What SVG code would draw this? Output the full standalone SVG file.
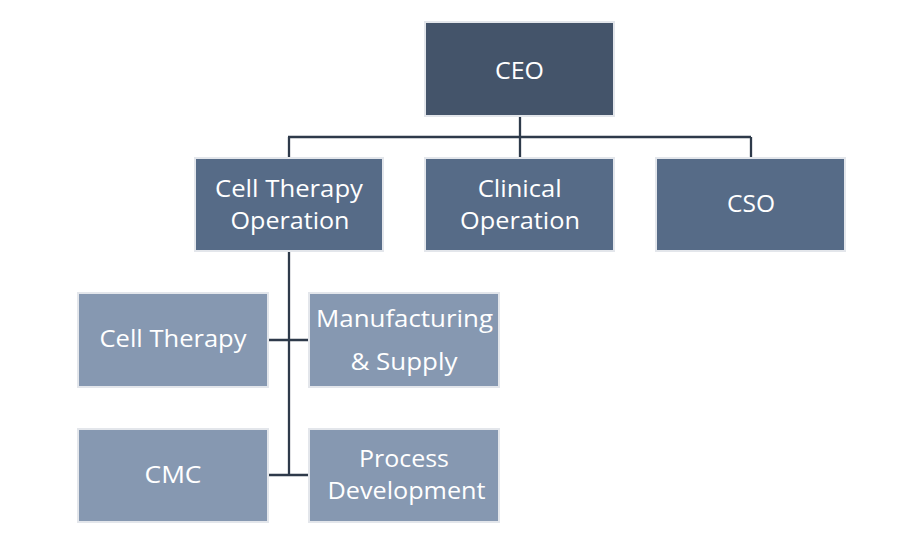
<svg xmlns="http://www.w3.org/2000/svg" width="904" height="548" viewBox="0 0 904 548">
  <style>
    .box { stroke: #E3E6EB; stroke-width: 2; }
    .l1 { fill: #44546A; }
    .l2 { fill: #566B87; }
    .l3 { fill: #8698B1; }
    .lbl { font-family: "Open Sans", "Noto Sans", "Liberation Sans", sans-serif; font-size: 23.5px; fill: #FFFFFF; text-anchor: middle; }
    .conn { stroke: #2E3A4A; stroke-width: 2.3; fill: none; }
  </style>
  <rect width="904" height="548" fill="#FFFFFF"/>
  <g id="connectors">
    <path class="conn" d="M520 116 V137 M288 137 H751 M289 137 V158 M520 137 V158 M751 137 V158"/>
    <path class="conn" d="M289 251 V475 M268 340 H309 M268 475 H309"/>
  </g>
  <g id="ceo">
    <rect class="box l1" x="425" y="22" width="189" height="94"/>
    <text class="lbl" x="519.5" y="78.5" textLength="49" lengthAdjust="spacingAndGlyphs">CEO</text>
  </g>
  <g id="cell-therapy-operation">
    <rect class="box l2" x="195" y="158" width="188" height="93"/>
    <text class="lbl" x="289" y="197" textLength="148" lengthAdjust="spacingAndGlyphs">Cell Therapy</text>
    <text class="lbl" x="290" y="228.5" textLength="119" lengthAdjust="spacingAndGlyphs">Operation</text>
  </g>
  <g id="clinical-operation">
    <rect class="box l2" x="425" y="158" width="189" height="93"/>
    <text class="lbl" x="519.7" y="196.5" textLength="84" lengthAdjust="spacingAndGlyphs">Clinical</text>
    <text class="lbl" x="520" y="228.5" textLength="120" lengthAdjust="spacingAndGlyphs">Operation</text>
  </g>
  <g id="cso">
    <rect class="box l2" x="656" y="158" width="189" height="93"/>
    <text class="lbl" x="751" y="212" textLength="48" lengthAdjust="spacingAndGlyphs">CSO</text>
  </g>
  <g id="cell-therapy">
    <rect class="box l3" x="78" y="293" width="190" height="94"/>
    <text class="lbl" x="173" y="347" textLength="147" lengthAdjust="spacingAndGlyphs">Cell Therapy</text>
  </g>
  <g id="manufacturing-supply">
    <rect class="box l3" x="309" y="293" width="190" height="94"/>
    <text class="lbl" x="404.5" y="326.5" textLength="177" lengthAdjust="spacingAndGlyphs">Manufacturing</text>
    <text class="lbl" x="404" y="369.5" textLength="107" lengthAdjust="spacingAndGlyphs">&amp; Supply</text>
  </g>
  <g id="cmc">
    <rect class="box l3" x="78" y="429" width="190" height="93"/>
    <text class="lbl" x="173" y="483" textLength="57" lengthAdjust="spacingAndGlyphs">CMC</text>
  </g>
  <g id="process-development">
    <rect class="box l3" x="309" y="429" width="190" height="93"/>
    <text class="lbl" x="404" y="466.5" textLength="90" lengthAdjust="spacingAndGlyphs">Process</text>
    <text class="lbl" x="406.5" y="498.5" textLength="158" lengthAdjust="spacingAndGlyphs">Development</text>
  </g>
</svg>
